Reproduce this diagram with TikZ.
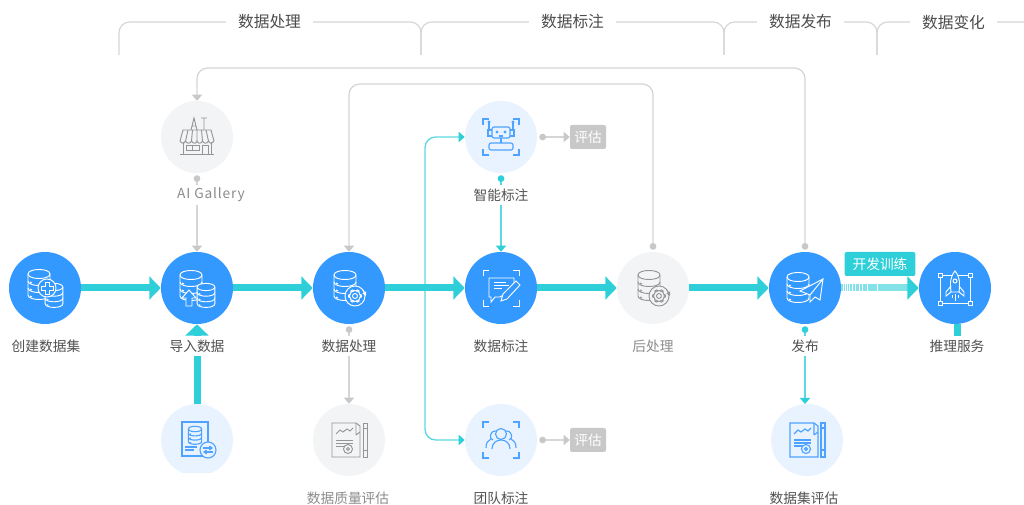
\documentclass[tikz,border=0pt]{standalone}
\usepackage{fontspec}
\setmainfont{Noto Sans CJK SC}
\usetikzlibrary{arrows.meta}
\definecolor{nodeblue}{HTML}{3399FF}
\definecolor{paleblue}{HTML}{E8F3FF}
\definecolor{palegray}{HTML}{F3F4F6}
\definecolor{flowteal}{HTML}{2ECFD9}
\definecolor{thinteal}{HTML}{5CD9E0}
\definecolor{linegray}{HTML}{D6D6D6}
\definecolor{tipgray}{HTML}{C8C8C8}
\definecolor{icongray}{HTML}{959595}
\definecolor{iconblue}{HTML}{4DA3FF}
\tikzset{
  bluecirc/.style={shape=circle,fill=nodeblue,minimum size=54pt,inner sep=0pt},
  palecirc/.style={shape=circle,fill=paleblue,minimum size=54pt,inner sep=0pt},
  graycirc/.style={shape=circle,fill=palegray,minimum size=54pt,inner sep=0pt},
  steplabel/.style={fill=white,text=black!68,font=\fontsize{10.3pt}{12pt}\selectfont,inner xsep=2pt,inner ysep=0pt,minimum height=15pt},
  dimlabel/.style={steplabel,text=black!45},
  headlabel/.style={fill=white,text=black!70,font=\fontsize{11.8pt}{14pt}\selectfont,inner xsep=9pt,inner ysep=1pt},
  evalbox/.style={fill=tipgray,text=white,rounded corners=1.5pt,minimum width=27pt,minimum height=18pt,inner sep=0pt,font=\fontsize{10.3pt}{12pt}\selectfont},
  trainbox/.style={fill=flowteal,text=white,rounded corners=1.5pt,minimum width=53pt,minimum height=18pt,inner sep=0pt,font=\fontsize{10.3pt}{12pt}\selectfont},
  headline/.style={draw=linegray,line width=.9pt,rounded corners=8pt},
  mainflow/.style={draw=flowteal,line width=5.25pt,-{Triangle[length=8.5pt,width=17pt,color=flowteal]}},
  tealflow/.style={draw=thinteal,line width=1pt,-{Triangle[length=4.5pt,width=7.5pt,color=flowteal]}},
  tealdot/.style={tealflow,{Circle[length=5pt,color=flowteal]}-{Triangle[length=4.5pt,width=7.5pt,color=flowteal]},shorten <=1.5pt},
  grayflow/.style={draw=linegray,line width=1pt,-{Triangle[length=4.5pt,width=7.5pt,color=tipgray]}},
  graydot/.style={grayflow,{Circle[length=5pt,color=tipgray]}-{Triangle[length=4.5pt,width=7.5pt,color=tipgray]},shorten <=1.5pt},
  iconwhite/.style={white,line width=.7pt,iconback/.style={fill=nodeblue}},
  iconpale/.style={iconblue,line width=.85pt,iconback/.style={fill=paleblue}},
  icondim/.style={icongray,line width=.7pt,iconback/.style={fill=palegray}},
  pics/dbstack/.style={code={
    \draw[iconback] (-11,-10) .. controls (-11,-16) and (11,-16) .. (11,-10) -- (11,11) .. controls (11,17) and (-11,17) .. (-11,11) -- cycle;
    \draw (-11,-10) .. controls (-11,-4) and (11,-4) .. (11,-10);
    \draw (-11,-3) .. controls (-11,3) and (11,3) .. (11,-3);
    \draw (-11,4) .. controls (-11,10) and (11,10) .. (11,4);
    \draw (-9,-2) -- (-7,-1) (-9,5) -- (-7,6) (-9,12) -- (-7,13);
  }},
  pics/plusmark/.style={code={
    \draw[iconback] (0,0) circle [radius=9];
    \draw (-2,-6) -- (2,-6) -- (2,-2) -- (6,-2) -- (6,2) -- (2,2) -- (2,6) -- (-2,6) -- (-2,2) -- (-6,2) -- (-6,-2) -- (-2,-2) -- cycle;
  }},
  pics/uparrow/.style={code={
    \draw[iconback] (0,-8) -- (7,0) -- (3,0) -- (3,8) -- (-3,8) -- (-3,0) -- (-7,0) -- cycle;
  }},
  pics/gearmark/.style={code={
    \draw[iconback] (0,0) circle [radius=10];
    \draw (0,0) circle [radius=2.5];
    \foreach \a in {0,60,...,300} \draw[rotate=\a] (5,-1.5) -- (6.5,-1) -- (6.5,1) -- (5,1.5);
    \draw (0,0) circle [radius=5.5];
    \draw[-{Triangle[length=3pt,width=3pt]}] (8,-6) -- (11,0);
  }},
  pics/scancorners/.style={code={
    \foreach \sx/\sy in {-1/-1,1/-1,1/1,-1/1}
      \draw[xscale=\sx,yscale=\sy] (18,12) -- (18,18) -- (12,18);
  }},
  pics/notepen/.style={code={
    \draw (-12,-10) -- (13,-10) -- (13,1) -- (-1,9) -- (-6,9) -- (-10,14) -- (-10,9) -- (-12,9) -- cycle;
    \draw (-7,-6) -- (5,-6) (-7,-3) -- (8,-3) (-7,0) -- (1,0);
    \draw[iconback] (15,-7) -- (19,-3) -- (6,11) -- (0,13) -- (2,6) -- cycle;
  }},
  pics/planemark/.style={code={
    \draw[iconback] (18,-9) -- (-5,3) -- (5,7) -- (5,14) -- (10,9) -- (15,12) -- cycle;
    \draw (18,-9) -- (5,7);
  }},
  pics/rocketmark/.style={code={
    \draw (-15,-14) rectangle (15,14);
    \foreach \sx/\sy in {-1/-1,1/-1,1/1,-1/1}
      \draw[fill=nodeblue] (15*\sx-2,14*\sy-2) rectangle (15*\sx+2,14*\sy+2);
    \draw[fill=nodeblue] (0,-18) .. controls (5,-12) and (5,-6) .. (4,3) -- (-4,3) .. controls (-5,-6) and (-5,-12) .. (0,-18) -- cycle;
    \draw (0,-8) circle [radius=2];
    \draw (-4,-3) -- (-9,3) -- (-9,7) -- (-4,3) (4,-3) -- (9,3) -- (9,7) -- (4,3);
    \draw (0,5) -- (0,12) (-3,6) -- (-3,9) (3,6) -- (3,9);
  }},
  pics/shopmark/.style={code={
    \draw (-6,-7) -- (-3,-19) -- (0,-7) (-5,-11) -- (-1,-11) (7,-19) -- (7,-7) (4,-19) -- (10,-19);
    \draw (-14,-7) -- (14,-7) -- (17,4) .. controls (15,7) and (13,7) .. (11.5,4) .. controls (10,7) and (7,7) .. (5.5,4) .. controls (4,7) and (1,7) .. (0,4) .. controls (-1,7) and (-4,7) .. (-5.5,4) .. controls (-7,7) and (-10,7) .. (-11.5,4) .. controls (-13,7) and (-15,7) .. (-17,4) -- cycle;
    \draw (-9,-7) -- (-11.5,4) (-4.5,-7) -- (-5.5,4) (0,-7) -- (0,4) (4.5,-7) -- (5.5,4) (9,-7) -- (11.5,4);
    \draw (-14,5) -- (-14,17) (14,5) -- (14,17) (-17,17) -- (17,17);
    \draw (-11,8) rectangle (2,13) (-4.5,8) -- (-4.5,13) (5,8) rectangle (11,17);
  }},
  pics/reportmark/.style={code={
    \draw (-17,-17) -- (7,-17) -- (11,-14) -- (11,17) -- (-17,17) -- cycle;
    \draw (7,-17) -- (7,-5) (7,-5) -- (11,-8);
    \draw (-13,-6) -- (-9,-10) -- (-6,-8) -- (-2,-11) -- (1,-9) -- (4,-12);
    \draw (-13,0) -- (4,0) (-13,3) -- (4,3) (-13,6) -- (-4,6);
    \draw (-1,9) circle [radius=4.5] (-1,9) circle [radius=1.5];
    \draw (14,-17) rectangle (18,17) (14,-12) -- (18,-12) (14,10) -- (18,10);
  }},
  pics/swapmark/.style={code={
    \draw[iconback] (0,0) circle [radius=8];
    \draw[-{Straight Barb[length=2pt,width=3pt]}] (-5,-2) -- (5,-2);
    \draw[-{Straight Barb[length=2pt,width=3pt]}] (5,2) -- (-5,2);
  }},
  pics/sheetmark/.style={code={
    \draw (-15,-18) rectangle (11,16);
    \draw (-12,7) -- (0,7) (-12,10) -- (-3,10);
  }},
  pics/robotmark/.style={code={
    \draw[rounded corners=1.5pt] (-9,-10) rectangle (9,1);
    \fill (-4,-5) circle [radius=1.6] (4,-5) circle [radius=1.6];
    \draw (-2,-1) -- (2,-1) (0,1) -- (0,6);
    \draw[rounded corners=1.5pt] (-12,6) rectangle (12,13);
    \draw (-12,-15) -- (-12,-7) (12,-15) -- (12,-7);
    \draw (-9,-7) -- (-13,-7) -- (-13,-1) -- (-9,-1) (9,-7) -- (13,-7) -- (13,-1) -- (9,-1);
    \fill (-12,-15) circle [radius=1.6] (12,-15) circle [radius=1.6];
  }},
  pics/teammark/.style={code={
    \draw (0,-6) circle [radius=5.5];
    \draw (-9,9) .. controls (-9,-3) and (9,-3) .. (9,9);
    \draw (-5,-9) .. controls (-12,-9) and (-12,-1) .. (-8,0);
    \draw (5,-9) .. controls (12,-9) and (12,-1) .. (8,0);
    \draw (-15,8) .. controls (-15,2) and (-13,1) .. (-10,-1);
    \draw (15,8) .. controls (15,2) and (13,1) .. (10,-1);
  }},
}
\begin{document}
\begin{tikzpicture}[x=.75pt,y=-.75pt]
\useasboundingbox (0,0) rectangle (1024,505);
\node[bluecirc] (create) at (45,288) {};
\node[bluecirc] (import) at (197,288) {};
\node[bluecirc] (process) at (349,288) {};
\node[bluecirc] (annotate) at (501,288) {};
\node[graycirc] (post) at (653,288) {};
\node[bluecirc] (publish) at (805,288) {};
\node[bluecirc] (serve) at (955,288) {};
\node[graycirc] (gallery) at (197,137) {};
\node[palecirc] (robot) at (501,137) {};
\node[palecirc] (source) at (197,440) {};
\node[graycirc] (quality) at (349,440) {};
\node[palecirc] (team) at (501,440) {};
\node[palecirc] (assess) at (807,440) {};
\node[evalbox] (roboteval) at (588,137) {评估};
\node[evalbox] (teameval) at (588,440) {评估};
\node[trainbox] (train) at (880,264) {开发训练};
\coordinate (stubend) at (957,336);
\coordinate (sourcetop) at (197,404);
\coordinate (looptl) at (197,68);
\coordinate (looptr) at (805,68);
\coordinate (loopml) at (349,84);
\coordinate (loopmr) at (653,84);
\coordinate (forktop) at (425,137);
\coordinate (forkbot) at (425,440);
\coordinate (assesstop) at (805,404);
\coordinate (hd0) at (119,55);
\coordinate (hd1) at (421,55);
\coordinate (hd2) at (724,55);
\coordinate (hd3) at (877,55);
\coordinate (hd4) at (1036,55);
\foreach \from/\to in {hd0/hd1,hd1/hd2,hd2/hd3,hd3/hd4}
  \draw[headline] (\from) -- (\from |- 0,22) -- (\to |- 0,22) -- (\to);
\draw[tealflow,{Triangle[length=4.5pt,width=7.5pt,color=flowteal]}-{Triangle[length=4.5pt,width=7.5pt,color=flowteal]},rounded corners=8pt] (robot.west) -- (forktop) -- (forkbot) -- (team.west);
\foreach \from/\to in {create/import,import/process,process/annotate,annotate/post,post/publish}
  \draw[mainflow] (\from) -- (\to);
\draw[mainflow,draw=flowteal!60,dash pattern=on 1pt off .7pt on 1pt off .7pt on 1pt off .7pt on 1pt off .7pt on 1.4pt off .7pt on 1.4pt off .7pt on 2pt off .7pt on 2pt off .7pt on 2.8pt off .7pt on 2.8pt off .7pt on 3.4pt off .6pt on 3.6pt off .6pt on 30pt off 0pt] (publish) -- (serve);
\draw[mainflow] (sourcetop) -- (import.south);
\draw[draw=flowteal,line width=5.25pt] (serve.south -| stubend) -- (stubend);
\draw[graydot,rounded corners=8pt] (publish.north) -- (looptr) -- (looptl) -- (gallery.north);
\draw[graydot,rounded corners=8pt] (post.north) -- (loopmr) -- (loopml) -- (process.north);
\draw[graydot] (gallery.south) -- (import.north);
\draw[graydot] (process.south) -- (quality.north);
\draw[graydot] (robot.east) -- (roboteval.west);
\draw[graydot] (team.east) -- (teameval.west);
\draw[tealdot] (robot.south) -- (annotate.north);
\draw[tealdot] (publish.south) -- (assesstop);
\node[fill=white,minimum width=60pt,minimum height=30pt,inner sep=0pt] (sourcecut) at (197,493) {};
\node[steplabel] (createlabel) at (46,346) {创建数据集};
\node[steplabel] (importlabel) at (197,346) {导入数据};
\node[steplabel] (processlabel) at (349,346) {数据处理};
\node[steplabel] (annotatelabel) at (501,346) {数据标注};
\node[dimlabel] (postlabel) at (653,346) {后处理};
\node[steplabel] (publishlabel) at (805,346) {发布};
\node[steplabel] (servelabel) at (957,346) {推理服务};
\node[dimlabel] (gallerylabel) at (211,195) {\addfontfeature{LetterSpace=6}AI Gallery};
\node[steplabel] (robotlabel) at (501,195) {智能标注};
\node[dimlabel] (qualitylabel) at (348,498) {数据质量评估};
\node[steplabel] (teamlabel) at (501,498) {团队标注};
\node[steplabel] (assesslabel) at (804,498) {数据集评估};
\node[headlabel] (headproc) at (269.5,22) {数据处理};
\node[headlabel] (headmark) at (572.5,22) {数据标注};
\node[headlabel] (headpub) at (800.5,22) {数据发布};
\node[headlabel] (headchange) at (953.5,22) {数据变化};
\pic[iconwhite] at (39,284) {dbstack};
\pic[iconwhite,scale=.8] at (54,295) {dbstack};
\pic[iconwhite] at (47,288) {plusmark};
\pic[iconwhite] at (191,285) {dbstack};
\pic[iconwhite,scale=.8] at (206,295) {dbstack};
\pic[iconwhite] at (189,298) {uparrow};
\pic[iconwhite] at (345,285) {dbstack};
\pic[iconwhite] at (355,296) {gearmark};
\pic[iconwhite] at (501,288) {scancorners};
\pic[iconwhite] at (501,288) {notepen};
\pic[icondim] at (649,285) {dbstack};
\pic[icondim] at (659,296) {gearmark};
\pic[iconwhite] at (798,287) {dbstack};
\pic[iconwhite] at (805,288) {planemark};
\pic[iconwhite] at (955,289) {rocketmark};
\pic[icondim] at (197,137) {shopmark};
\pic[iconpale] at (501,137) {scancorners};
\pic[iconpale] at (501,137) {robotmark};
\pic[iconpale] at (197,440) {sheetmark};
\pic[iconpale,scale=.6] at (195,435) {dbstack};
\pic[iconpale] at (208,450) {swapmark};
\pic[icondim] at (349,440) {reportmark};
\pic[iconpale] at (501,440) {scancorners};
\pic[iconpale] at (501,440) {teammark};
\pic[iconpale] at (807,440) {reportmark};
\end{tikzpicture}
\end{document}
